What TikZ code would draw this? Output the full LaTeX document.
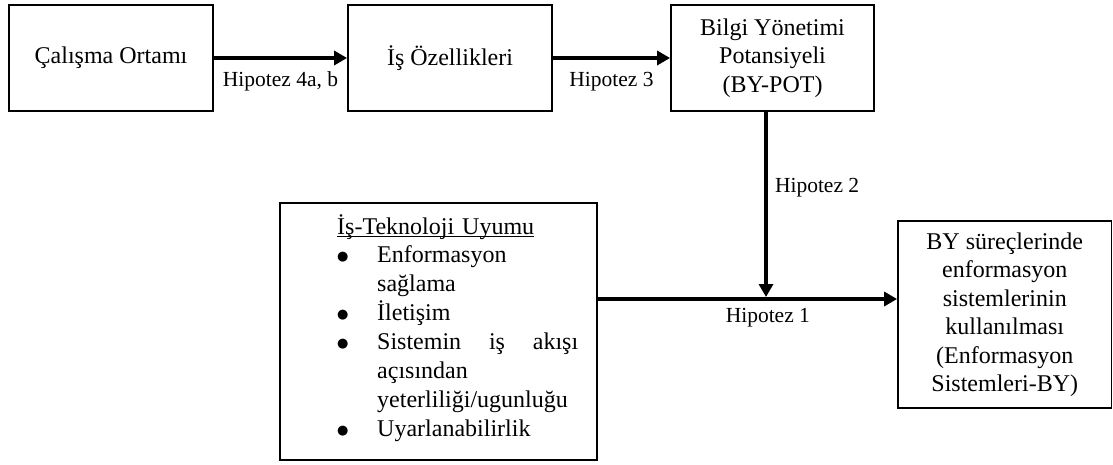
\documentclass[tikz,border=0pt]{standalone}
\usepackage{fontspec}
\setmainfont{Liberation Serif}
\newfontfamily\symf{DejaVu Sans}
\usetikzlibrary{arrows.meta}
\newcommand{\blt}{\makebox[40pt][l]{\raisebox{2pt}{\symf\fontsize{13}{13}\selectfont ●}}}
\newcommand{\indnt}{\hspace*{40pt}}
\newcommand{\myul}[1]{\setbox0\hbox{#1}\rlap{\rule[-3pt]{\wd0}{1.4pt}}\box0}
\begin{document}
\begin{tikzpicture}[x=1pt,y=-1pt,
  box/.style={draw, line width=1.8pt, inner sep=0pt, align=center,
    font=\fontsize{24}{28.5}\selectfont},
  arr/.style={line width=4pt, -{Triangle[length=13pt,width=14pt]}},
  lbl/.style={font=\fontsize{21.5}{26}\selectfont, inner sep=0pt}]
\useasboundingbox (0,0) rectangle (1113,464);

\node[box, minimum width=204pt, minimum height=106pt] (co) at (111,58) {Çalışma Ortamı};
\node[box, minimum width=204pt, minimum height=106pt] (io) at (450,58) {İş Özellikleri};
\node[box, minimum width=203pt, minimum height=106pt] (bp) at (772.5,58)
  {Bilgi Yönetimi\\Potansiyeli\\(BY-POT)};
\node[box, minimum width=317pt, minimum height=257pt] (itu) at (438.5,331.5) {};
\node[box, minimum width=213.5pt, minimum height=187pt] (eis) at (1004.75,314.5)
  {BY süreçlerinde\\enformasyon\\sistemlerinin\\kullanılması\\(Enformasyon\\Sistemleri-BY)};

\node[anchor=base west, inner sep=0pt, text width=241pt, align=left,
  font=\fontsize{24}{28.9}\selectfont] (itutext) at (337,234)
  {\myul{İş-Teknoloji Uyumu}\\
   \blt Enformasyon\\
   \indnt sağlama\\
   \blt İletişim\\
   \blt\hbox to 201pt{Sistemin\hfill iş\hfill akışı}\\
   \indnt açısından\\
   \indnt yeterliliği/ugunluğu\\
   \blt Uyarlanabilirlik};

\coordinate (hl) at (0,299);
\coordinate (vend) at (766,297);

\draw[arr] (co.east) -- node[lbl, below=12pt] {Hipotez 4a, b} (io.west);
\draw[arr] (io.east) -- node[lbl, below=12pt] {Hipotez 3} (bp.west);
\draw[arr] (bp.south -| vend) -- node[lbl, right=7pt, pos=0.41] {Hipotez 2} (vend);
\draw[arr] (itu.east |- hl) -- node[lbl, below=7pt, pos=0.568] {Hipotez 1} (eis.west |- hl);
\end{tikzpicture}
\end{document}
